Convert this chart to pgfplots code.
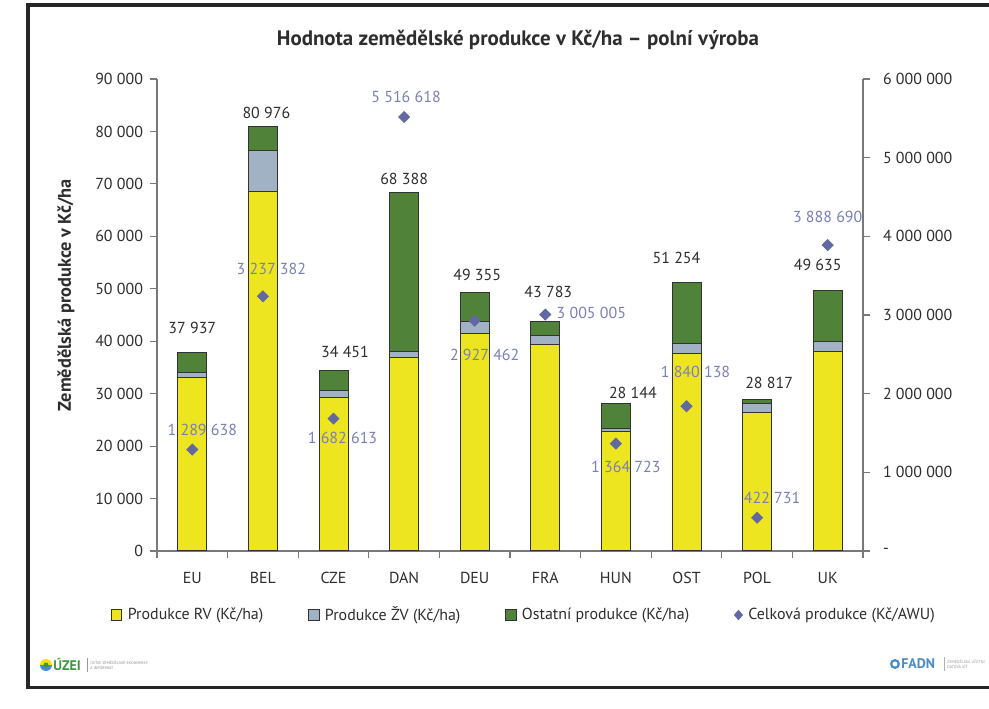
\documentclass[border=0pt]{standalone}
\usepackage{fontspec}
\setmainfont{PT Sans}
\usepackage{pgfplots}
\usepackage{pgfplotstable}
\pgfplotsset{compat=1.18}

\definecolor{rv}{RGB}{237,229,32}
\definecolor{zv}{RGB}{160,178,196}
\definecolor{ost}{RGB}{80,131,57}
\definecolor{dia}{RGB}{98,104,160}
\definecolor{lab}{RGB}{122,128,182}
\definecolor{axc}{RGB}{120,120,120}
\definecolor{txt}{RGB}{45,45,45}
\definecolor{uzeig}{RGB}{60,150,70}
\definecolor{fadnb}{RGB}{70,140,200}

\pgfplotsset{
  sqlegend/.style={legend image code/.code={\draw[##1,line width=0.5bp] (0bp,-2.6bp) rectangle (5.2bp,2.6bp);}},
  dialegend/.style={legend image code/.code={\fill[dia] (2.6bp,2.3bp) -- (4.6bp,0bp) -- (2.6bp,-2.3bp) -- (0.6bp,0bp) -- cycle;}},
}

% bars: x, RV, ZV, other, total label, label shift (bp, from middle of top segment)
\pgfplotstableread[col sep=comma]{
x,rv,zv,ost,total,tdx,tdy
0,33000,1100,3837,37 937,0,17.05
1,68500,7800,4676,80 976,1.75,12.8
2,29300,1300,3851,34 451,5.75,14.2
3,36900,1100,30388,68 388,0,46.55
4,41500,2200,5655,49 355,1.25,16.0
5,39300,1700,2783,43 783,1.5,18.35
6,22700,700,4744,28 144,8.5,11.45
7,37600,1900,11754,51 254,-5,27.5
8,26500,1700,617,28 817,6,9.25
9,38100,1900,9635,49 635,-5,25.5
}\bars

% total production per AWU (right axis)
\pgfplotstableread[col sep=comma]{
x,val,label,dx,dy
0,1289638,1 289 638,5,10
1,3237382,3 237 382,4.25,13.5
2,1682613,1 682 613,4.5,-9.5
3,5516618,5 516 618,1,10
4,2927462,2 927 462,5,-17
5,3005005,3 005 005,23,1
6,1364723,1 364 723,5,-11.5
7,1840138,1 840 138,4.5,17
8,422731,422 731,7.5,10
9,3888690,3 888 690,0,14
}\scat

\newcommand{\tickfont}{\fontsize{8}{9.5}\selectfont}

\begin{document}
\begin{tikzpicture}
\useasboundingbox (0,0) rectangle (494.5bp,354.5bp);
\fill[white] (0,0) rectangle (494.5bp,354.5bp);
% outer frame
\draw[line width=1.7bp, black!85] (13.9bp,10.6bp) rectangle (520bp,352bp);

\begin{axis}[
  at={(78.5bp,79bp)}, anchor=south west,
  scale only axis, width=353bp, height=236bp,
  xmin=-0.5, xmax=9.5, ymin=0, ymax=90000,
  scaled y ticks=false,
  ybar stacked, bar width=14.5bp,
  axis x line*=bottom, axis y line*=left,
  axis line style={draw=axc, line width=0.6bp},
  every tick/.style={draw=axc, line width=0.6bp},
  tick align=outside, major tick length=3.5bp,
  xtick={-0.5,0.5,...,9.5}, xticklabels={},
  extra x ticks={0,1,2,3,4,5,6,7,8,9},
  extra x tick labels={EU,BEL,CZE,DAN,DEU,FRA,HUN,OST,POL,UK},
  extra x tick style={major tick length=0pt, tick label style={yshift=-7bp}},
  ytick={0,10000,20000,30000,40000,50000,60000,70000,80000,90000},
  yticklabels={0,10 000,20 000,30 000,40 000,50 000,60 000,70 000,80 000,90 000},
  tick label style={font=\tickfont, text=txt},
  title={Hodnota zemědělské produkce v Kč/ha – polní výroba},
  title style={at={(axis description cs:0.5113,1.0573)}, anchor=center,
    font=\bfseries\fontsize{10.5}{12}\selectfont, text=txt},
  ylabel={Zemědělská produkce v Kč/ha},
  ylabel style={at={(axis description cs:-0.129,0.542)}, anchor=center,
    font=\bfseries\fontsize{9.2}{11}\selectfont, text=txt},
  legend columns=4,
  legend style={at={(axis description cs:0.52,-0.1356)}, anchor=center,
    draw=none, fill=none, font=\fontsize{8}{9.5}\selectfont, text=txt,
    /tikz/every even column/.append style={column sep=21.2bp},
    /tikz/every odd column/.append style={column sep=1.5bp},
    nodes={inner sep=1.2bp}},
  clip=false,
]
\addplot[fill=rv, draw=black!80, line width=0.5bp, sqlegend]
  table[x=x,y=rv]{\bars};
\addlegendentry{Produkce RV (Kč/ha)}
\addplot[fill=zv, draw=black!80, line width=0.5bp, sqlegend]
  table[x=x,y=zv]{\bars};
\addlegendentry{Produkce ŽV (Kč/ha)}
\addplot[fill=ost, draw=black!80, line width=0.5bp, sqlegend,
  point meta=explicit symbolic,
  visualization depends on={\thisrow{tdx} \as \tdx},
  visualization depends on={\thisrow{tdy} \as \tdy},
  nodes near coords, nodes near coords align={center},
  nodes near coords style={anchor=center, xshift=\tdx bp, yshift=\tdy bp,
    font=\tickfont, text=txt}]
  table[x=x,y=ost,meta=total]{\bars};
\addlegendentry{Ostatní produkce (Kč/ha)}
\addlegendimage{dialegend}
\addlegendentry{Celková produkce (Kč/AWU)}
\end{axis}

\begin{axis}[
  at={(78.5bp,79bp)}, anchor=south west,
  scale only axis, width=353bp, height=236bp,
  xmin=-0.5, xmax=9.5, ymin=0, ymax=6000000,
  scaled y ticks=false,
  axis x line=none, axis y line*=right,
  axis line style={draw=axc, line width=0.6bp},
  every tick/.style={draw=axc, line width=0.6bp},
  tick align=outside, major tick length=3.5bp,
  ytick={0,1000000,2000000,3000000,4000000,5000000,6000000},
  yticklabels={-,1 000 000,2 000 000,3 000 000,4 000 000,5 000 000,6 000 000},
  yticklabel style={anchor=west, xshift=3bp},
  tick label style={font=\tickfont, text=txt},
  clip=false,
]
\addplot[only marks, mark=square*, mark size=1.95bp,
  mark options={rotate=45, fill=dia, draw=dia},
  point meta=explicit symbolic,
  visualization depends on={\thisrow{dx} \as \ldx},
  visualization depends on={\thisrow{dy} \as \ldy},
  nodes near coords, nodes near coords align={center},
  nodes near coords style={anchor=center, xshift=\ldx bp, yshift=\ldy bp,
    font=\tickfont, text=lab}]
  table[x=x,y=val,meta=label]{\scat};
\end{axis}

% logos
\begin{scope}[x=0.5bp,y=0.5bp]
  \fill[yellow!80!orange] (46,44) ++(0:6) arc (0:180:6) -- cycle;
  \fill[fadnb] (46,44) ++(180:6) arc (180:360:6) -- cycle;
  \fill[uzeig] (46,44) circle (2.5);
  \node[anchor=west, inner sep=0, text=uzeig, font=\bfseries\fontsize{7}{8}\selectfont] at (53,44) {ÚZEI};
  \draw[black!40, line width=0.3bp] (87,37) -- (87,51);
  \node[anchor=west, inner sep=0, text=black!45, font=\fontsize{2}{2.6}\selectfont, align=left] at (90,44) {ÚSTAV ZEMĚDĚLSKÉ EKONOMIKY\\A INFORMACÍ};
  \fill[fadnb] (895,45) circle (5);
  \fill[white] (895,45) circle (2.5);
  \node[anchor=west, inner sep=0, text=fadnb, font=\bfseries\fontsize{7}{8}\selectfont] at (901,45) {FADN};
  \draw[black!30, line width=0.3bp] (944,38) -- (944,52);
  \node[anchor=west, inner sep=0, text=black!40, font=\fontsize{2}{2.6}\selectfont, align=left] at (947,45) {ZEMĚDĚLSKÁ ÚČETNÍ\\DATOVÁ SÍŤ};
\end{scope}
\end{tikzpicture}
\end{document}
